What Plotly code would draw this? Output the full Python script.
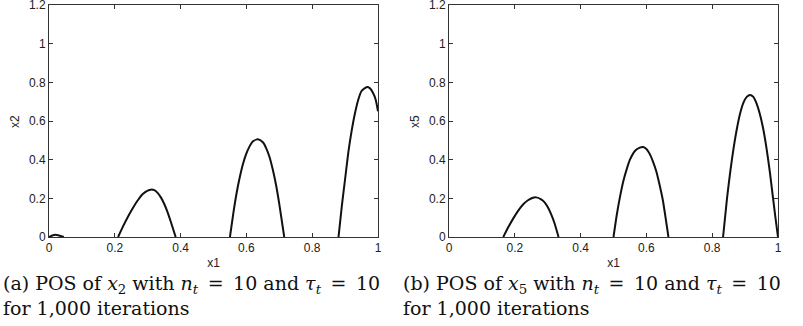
import plotly.graph_objects as go

# Left panel: POS of x2 (arcs, x1 vs x2)
left_x = [
    [0.0, 0.01, 0.02, 0.03, 0.045],
    [0.21, 0.225, 0.24, 0.255, 0.27, 0.285, 0.30, 0.31, 0.32, 0.33, 0.34, 0.35, 0.36, 0.37, 0.385],
    [0.55, 0.56, 0.57, 0.58, 0.59, 0.60, 0.61, 0.62, 0.635, 0.65, 0.66, 0.67, 0.68, 0.69, 0.70, 0.715],
    [0.88, 0.89, 0.90, 0.91, 0.92, 0.93, 0.94, 0.95, 0.965, 0.975, 0.985, 0.993, 1.0],
]
left_y = [
    [0.0, 0.008, 0.011, 0.008, 0.0],
    [0.0, 0.055, 0.105, 0.15, 0.19, 0.222, 0.24, 0.245, 0.242, 0.228, 0.205, 0.172, 0.13, 0.08, 0.0],
    [0.0, 0.12, 0.225, 0.31, 0.38, 0.432, 0.47, 0.495, 0.505, 0.49, 0.46, 0.415, 0.35, 0.27, 0.17, 0.0],
    [0.0, 0.16, 0.3, 0.44, 0.55, 0.64, 0.71, 0.755, 0.775, 0.77, 0.745, 0.71, 0.65],
]

# Right panel: POS of x5 (arcs, x1 vs x5)
right_x = [
    [0.165, 0.18, 0.195, 0.21, 0.225, 0.24, 0.255, 0.265, 0.28, 0.29, 0.30, 0.31, 0.32, 0.333],
    [0.50, 0.51, 0.52, 0.53, 0.54, 0.55, 0.565, 0.58, 0.59, 0.60, 0.61, 0.62, 0.63, 0.64, 0.65, 0.667],
    [0.833, 0.845, 0.855, 0.865, 0.875, 0.885, 0.895, 0.905, 0.915, 0.925, 0.935, 0.945, 0.955, 0.965, 0.975, 0.985, 0.993, 1.0],
]
right_y = [
    [0.0, 0.05, 0.095, 0.135, 0.168, 0.19, 0.203, 0.205, 0.195, 0.18, 0.155, 0.12, 0.075, 0.0],
    [0.0, 0.115, 0.21, 0.29, 0.35, 0.4, 0.445, 0.462, 0.465, 0.455, 0.43, 0.39, 0.34, 0.27, 0.19, 0.0],
    [0.0, 0.2, 0.34, 0.46, 0.56, 0.64, 0.695, 0.725, 0.735, 0.725, 0.69, 0.635, 0.56, 0.46, 0.34, 0.2, 0.09, 0.0],
]

x_ticks = [0, 0.2, 0.4, 0.6, 0.8, 1]
x_tick_text = ["0", "0.2", "0.4", "0.6", "0.8", "1"]
y_ticks = [0, 0.2, 0.4, 0.6, 0.8, 1, 1.2]
y_tick_text = ["0", "0.2", "0.4", "0.6", "0.8", "1", "1.2"]

EQ = "\u2002=\u2002"
captions = [
    "(a) POS of <i>x</i><sub>2</sub> with <i>n<sub>t</sub></i>" + EQ + "10 and <i>τ<sub>t</sub></i>" + EQ + "10<br>for 1,000 iterations",
    "(b) POS of <i>x</i><sub>5</sub> with <i>n<sub>t</sub></i>" + EQ + "10 and <i>τ<sub>t</sub></i>" + EQ + "10<br>for 1,000 iterations",
]

W, H = 803, 326
fig = go.Figure()

for xs, ys in zip(left_x, left_y):
    fig.add_trace(go.Scatter(x=xs, y=ys, mode="lines", xaxis="x", yaxis="y",
                             line=dict(color="#111111", width=2, shape="spline", smoothing=0.6),
                             showlegend=False, hoverinfo="skip"))
for xs, ys in zip(right_x, right_y):
    fig.add_trace(go.Scatter(x=xs, y=ys, mode="lines", xaxis="x2", yaxis="y2",
                             line=dict(color="#111111", width=2, shape="spline", smoothing=0.6),
                             showlegend=False, hoverinfo="skip"))

tick_font = dict(family="Liberation Sans, Arial, sans-serif", size=12, color="#222222")
ydom = [1 - 237 / H, 1 - 5 / H]

def xaxis(dom, anchor):
    return dict(domain=dom, anchor=anchor, range=[0, 1], tickvals=x_ticks, ticktext=x_tick_text,
                ticks="inside", ticklen=4, tickcolor="#333333", mirror="ticks",
                showline=True, linecolor="#333333", linewidth=1, showgrid=False, zeroline=False,
                tickfont=tick_font, title=dict(text="x1", font=tick_font, standoff=4),
                ticklabeloverflow="allow", automargin=False)

def yaxis(dom, anchor):
    return dict(domain=dom, anchor=anchor, range=[0, 1.2], tickvals=y_ticks, ticktext=y_tick_text,
                ticks="inside", ticklen=4, tickcolor="#333333", mirror="ticks",
                showline=True, linecolor="#333333", linewidth=1, showgrid=False, zeroline=False,
                tickfont=tick_font, title=dict(text="", font=tick_font),
                ticklabeloverflow="allow", automargin=False)

fig.update_layout(
    width=W, height=H,
    margin=dict(l=0, r=0, t=0, b=0),
    paper_bgcolor="white", plot_bgcolor="white",
    xaxis=xaxis([49 / W, 378 / W], "y"),
    yaxis=yaxis(ydom, "x"),
    xaxis2=xaxis([449 / W, 778 / W], "y2"),
    yaxis2=yaxis(ydom, "x2"),
)

# y-axis titles (rotated) placed beside tick labels
for xpix, txt in [(15, "x2"), (415, "x5")]:
    fig.add_annotation(x=xpix / W, y=1 - 121 / H, xref="paper", yref="paper", text=txt,
                       textangle=-90, showarrow=False, font=tick_font,
                       xanchor="center", yanchor="middle")

cap_font = dict(family="DejaVu Serif, Liberation Serif, serif", size=19, color="#111111")
for xpix, txt in [(1, captions[0]), (401, captions[1])]:
    fig.add_annotation(x=xpix / W, y=1 - 270 / H, xref="paper", yref="paper", text=txt,
                       showarrow=False, font=cap_font, align="left",
                       xanchor="left", yanchor="top")

fig.write_html("out.html")
